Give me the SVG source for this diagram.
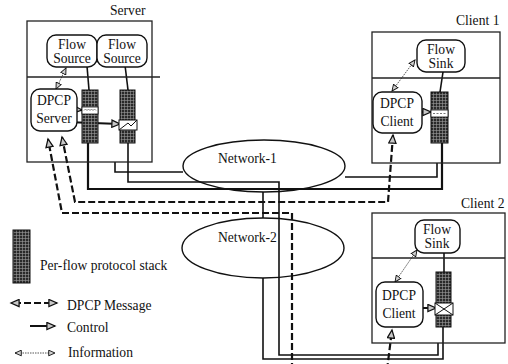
<svg xmlns="http://www.w3.org/2000/svg" width="508" height="364" viewBox="0 0 508 364" font-family="'Liberation Serif', 'Times New Roman', Times, serif">
<style>
text{font-family:'Liberation Serif','Times New Roman',Times,serif;font-size:13.6px;fill:#111}
.c{text-anchor:middle}
.box{fill:none;stroke:#222;stroke-width:1.3}
.rr{fill:#fff;stroke:#111;stroke-width:1.4}
.stk{fill:url(#grid);stroke:#111;stroke-width:1}
.ln{fill:none;stroke:#111;stroke-width:1.6}
.thk{fill:none;stroke:#111;stroke-width:2.2}
.dash{fill:none;stroke:#111;stroke-width:2.2;stroke-dasharray:7 3}
.ctl{fill:none;stroke:#111;stroke-width:2}
.inf{fill:none;stroke:#444;stroke-width:0.9;stroke-dasharray:1.5 1}
.net{fill:none;stroke:#111;stroke-width:1.4}
</style>
<defs>
<pattern id="grid" width="3" height="3" patternUnits="userSpaceOnUse">
<rect width="3" height="3" fill="#2a2a2a"/>
<path d="M0 1.5H3M1.5 0V3" stroke="#9a9a9a" stroke-width="0.6"/>
</pattern>
<marker id="ah" viewBox="0 0 10 10" refX="9" refY="5" markerWidth="11" markerHeight="9" markerUnits="userSpaceOnUse" orient="auto-start-reverse">
<path d="M0,1 L9,5 L0,9 Z" fill="#c8c8c8" stroke="#111" stroke-width="1.4"/>
</marker>
<marker id="sh" viewBox="0 0 10 10" refX="9" refY="5" markerWidth="8" markerHeight="7" markerUnits="userSpaceOnUse" orient="auto-start-reverse">
<path d="M0,1 L9,5 L0,9 Z" fill="#d0d0d0" stroke="#111" stroke-width="1.3"/>
</marker>
</defs>
<rect width="508" height="364" fill="#fff"/>

<g id="connectors">
<line class="inf" x1="66" y1="68" x2="56" y2="89" marker-start="url(#sh)" marker-end="url(#sh)"/>
<line class="ln" x1="87" y1="66" x2="89" y2="90"/>
<line class="ln" x1="125" y1="65" x2="128" y2="90"/>
<line class="ctl" x1="70" y1="109" x2="82" y2="110" marker-end="url(#ah)"/>
<line class="ctl" x1="66" y1="122" x2="120" y2="124" marker-end="url(#ah)"/>
<path class="thk" d="M88 143 V189 H442 V143"/>
<path class="ln" d="M128 143 V182 H279 V355 H438 V343"/>
<path class="ln" d="M115 162 V172 H183"/>
<path class="ln" d="M345 177 H437 V163"/>
<path class="ln" d="M263 192 V218"/>
<path class="ln" d="M263 278 V359 H443 V327"/>
<path class="dash" d="M292 370 V213 H62 L48 139" marker-end="url(#ah)"/>
<path class="dash" d="M393 135 L388 202 H75 L62 137" marker-start="url(#ah)" marker-end="url(#ah)"/>
<path class="dash" d="M387 370 L392 330" marker-end="url(#ah)"/>
<line class="ln" x1="443" y1="72" x2="440" y2="92"/>
<line class="ctl" x1="422" y1="112" x2="431" y2="112" marker-end="url(#ah)"/>
<line class="inf" x1="415" y1="60" x2="392" y2="91" marker-start="url(#sh)" marker-end="url(#sh)"/>
<line class="ln" x1="444" y1="253" x2="444" y2="272"/>
<line class="ctl" x1="423" y1="308" x2="436" y2="308" marker-end="url(#ah)"/>
<line class="inf" x1="417" y1="250" x2="395" y2="282" marker-start="url(#sh)" marker-end="url(#sh)"/>
</g>

<g id="server">
<rect class="box" x="27" y="21" width="125" height="141"/>
<line class="box" x1="27" y1="77" x2="160" y2="77"/>
<text x="110" y="15">Server</text>
</g>
<g id="flow-source-1">
<rect class="rr" x="47" y="35" width="50" height="32" rx="9"/>
<text class="c" x="72" y="49">Flow</text>
<text class="c" x="72" y="63">Source</text>
</g>
<g id="flow-source-2">
<rect class="rr" x="97" y="35" width="50" height="32" rx="9"/>
<text class="c" x="122" y="49">Flow</text>
<text class="c" x="122" y="63">Source</text>
</g>
<g id="dpcp-server">
<rect class="rr" x="31" y="89" width="46" height="42" rx="9"/>
<text class="c" x="54" y="105">DPCP</text>
<text class="c" x="54" y="123">Server</text>
</g>
<g id="server-stack-1">
<rect class="stk" x="82" y="90" width="16" height="53"/>
<rect x="82" y="107" width="16" height="7" fill="#fff" stroke="#111" stroke-width="0.8"/>
<path d="M84 110.5 l1.5 -1.5 l1.5 1.5 l1.5 -1.5 l1.5 1.5 l1.5 -1.5 l1.5 1.5 l1.5 -1.5 l1.5 1.5" fill="none" stroke="#555" stroke-width="0.7"/>
</g>
<g id="server-stack-2">
<rect class="stk" x="120" y="90" width="15" height="53"/>
<rect x="119" y="120" width="18" height="10" fill="#fff" stroke="#111" stroke-width="1"/>
<path d="M119 130 L128 123 L131 126 L137 120" fill="none" stroke="#111" stroke-width="1"/>
</g>

<g id="network-1">
<ellipse class="net" cx="264" cy="166" rx="81" ry="26"/>
<text x="218" y="163">Network-1</text>
</g>
<g id="network-2">
<ellipse class="net" cx="263" cy="248" rx="81" ry="30"/>
<text x="218" y="242">Network-2</text>
</g>

<g id="client-1">
<rect class="box" x="372" y="32" width="128" height="131"/>
<line class="box" x1="372" y1="78" x2="500" y2="78"/>
<text x="456" y="25">Client 1</text>
</g>
<g id="c1-flow-sink">
<rect class="rr" x="417" y="40" width="48" height="32" rx="9"/>
<text class="c" x="441" y="54">Flow</text>
<text class="c" x="441" y="68">Sink</text>
</g>
<g id="c1-dpcp-client">
<rect class="rr" x="373" y="92" width="49" height="41" rx="9"/>
<text class="c" x="397" y="108">DPCP</text>
<text class="c" x="397" y="126">Client</text>
</g>
<g id="c1-stack">
<rect class="stk" x="431" y="92" width="17" height="51"/>
<rect x="431" y="110" width="17" height="7" fill="#fff" stroke="#111" stroke-width="0.8"/>
<path d="M433 113.5 h2 m1.5 0 h2 m1.5 0 h2 m1.5 0 h2" fill="none" stroke="#555" stroke-width="0.8"/>
</g>

<g id="client-2">
<rect class="box" x="372" y="213" width="133" height="130"/>
<line class="box" x1="372" y1="258" x2="505" y2="258"/>
<text x="461" y="208">Client 2</text>
</g>
<g id="c2-flow-sink">
<rect class="rr" x="415" y="220" width="45" height="33" rx="9"/>
<text class="c" x="437" y="234">Flow</text>
<text class="c" x="437" y="248">Sink</text>
</g>
<g id="c2-dpcp-client">
<rect class="rr" x="376" y="282" width="47" height="45" rx="9"/>
<text class="c" x="399" y="300">DPCP</text>
<text class="c" x="399" y="318">Client</text>
</g>
<g id="c2-stack">
<rect class="stk" x="436" y="272" width="15" height="55"/>
<rect x="435" y="303" width="18" height="12" fill="#fff" stroke="#111" stroke-width="1"/>
<path d="M435 303 L453 315 M453 303 L435 315" fill="none" stroke="#111" stroke-width="1"/>
</g>

<g id="legend">
<rect class="stk" x="13" y="230" width="17" height="53"/>
<text x="40" y="270">Per-flow protocol stack</text>
<line class="dash" x1="11" y1="303" x2="57" y2="303" marker-start="url(#ah)" marker-end="url(#ah)" style="stroke-dashoffset:-3"/>
<text x="67" y="310">DPCP Message</text>
<line class="ctl" x1="30" y1="326" x2="55" y2="326" marker-end="url(#ah)"/>
<text x="67" y="332">Control</text>
<line class="inf" x1="15" y1="353" x2="55" y2="353" marker-start="url(#sh)" marker-end="url(#sh)"/>
<text x="68" y="357">Information</text>
</g>
</svg>
